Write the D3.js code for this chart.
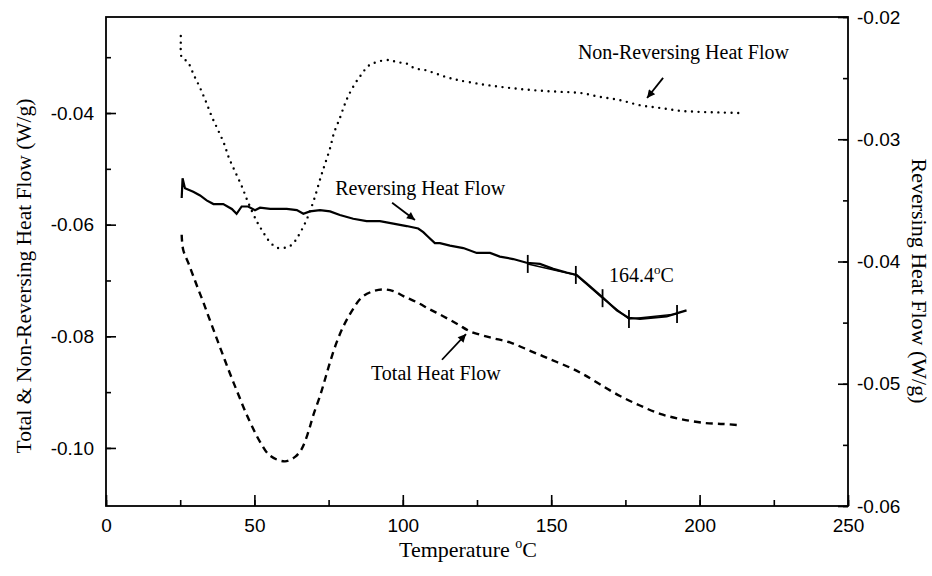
<!DOCTYPE html>
<html><head><meta charset="utf-8">
<script src="https://cdn.jsdelivr.net/npm/d3@7"></script>
<style>body{margin:0;background:#fff}</style>
</head><body>
<svg id="chart" width="932" height="576"></svg>
<script>
// ---------- data ----------
const xTicks = [0,25,50,75,100,125,150,175,200,225,250];
const xTickLabels = [0,50,100,150,200,250];
const leftTicks = [-0.03,-0.04,-0.05,-0.06,-0.07,-0.08,-0.09,-0.10];
const leftTickLabels = [-0.04,-0.06,-0.08,-0.10];
const rightTicks = [-0.06,-0.055,-0.05,-0.045,-0.04,-0.035,-0.03,-0.025,-0.02];
const rightTickLabels = [-0.06,-0.05,-0.04,-0.03,-0.02];

// Total heat flow (left axis)
const totalT  = [25.5,26.0,27.7,29.4,31.1,32.8,34.5,36.2,37.8,39.5,41.2,42.9,44.8,46.8,49.1,51.9,55.3,60.3,63.7,65.9,68.2,69.8,72.1,73.8,75.5,77.7,80.0,82.8,86.2,90.1,93.4,96.8,100.2,104.7,109.2,113.6,118.7,122.6,129.4,136.1,142.9,149.6,156.3,160.8,166.4,173.2,179.9,186.7,193.4,201.2,208.0,213.0];
const totalHF = [-0.0618,-0.0645,-0.0668,-0.0692,-0.0716,-0.0739,-0.0764,-0.0788,-0.0811,-0.0835,-0.0859,-0.0882,-0.0907,-0.0933,-0.0960,-0.0989,-0.1014,-0.1024,-0.1016,-0.1002,-0.0971,-0.0942,-0.0907,-0.0877,-0.0846,-0.0811,-0.0782,-0.0755,-0.0730,-0.0719,-0.0716,-0.0719,-0.0728,-0.0739,-0.0752,-0.0764,-0.0779,-0.0791,-0.0802,-0.0811,-0.0826,-0.0841,-0.0856,-0.0868,-0.0886,-0.0907,-0.0924,-0.0939,-0.0948,-0.0955,-0.0957,-0.0959];

// Non-reversing heat flow (left axis)
const nonRevT  = [25.2,25.2,25.5,27.6,29.6,31.7,33.7,35.7,37.7,39.8,41.4,43.5,45.8,47.8,50.8,52.9,54.6,57.5,60.6,62.6,64.7,67.6,70.1,72.4,73.8,75.5,76.8,78.8,80.2,81.5,83.6,85.9,88.3,90.0,92.3,95.7,98.0,101.1,104.1,107.5,111.5,114.9,118.6,126.0,132.7,139.5,146.2,153.0,159.7,166.4,173.2,179.9,186.7,193.4,200.1,206.9,213.6];
const nonRevHF = [-0.0262,-0.0276,-0.0300,-0.0309,-0.0332,-0.0355,-0.0380,-0.0407,-0.0430,-0.0455,-0.0480,-0.0505,-0.0532,-0.0559,-0.0594,-0.0613,-0.0627,-0.0641,-0.0641,-0.0636,-0.0621,-0.0591,-0.0555,-0.0514,-0.0491,-0.0463,-0.0436,-0.0409,-0.0388,-0.0371,-0.0350,-0.0332,-0.0316,-0.0311,-0.0307,-0.0305,-0.0309,-0.0311,-0.0320,-0.0323,-0.0330,-0.0336,-0.0341,-0.0348,-0.0353,-0.0357,-0.0360,-0.0362,-0.0364,-0.0371,-0.0377,-0.0386,-0.0391,-0.0396,-0.0398,-0.0399,-0.0400];

// Reversing heat flow (right axis)
const revT  = [25.5,25.8,26.6,29.4,31.7,33.9,36.2,39.5,42.4,44.0,45.7,47.9,50.2,51.9,55.3,60.9,64.3,66.5,68.7,72.1,75.5,78.8,83.3,87.8,92.3,96.8,101.3,105.2,106.9,108.6,110.8,112.5,115.9,120.4,124.9,129.4,132.7,137.2,141.7,146.2,150.7,155.2,158.6,162.0,167.6,172.1,176.0,179.9,184.4,188.9,192.8,195.6];
const revHF = [-0.0348,-0.0332,-0.0340,-0.0343,-0.0346,-0.0350,-0.0353,-0.0353,-0.0357,-0.0361,-0.0355,-0.0355,-0.0358,-0.0356,-0.0357,-0.0357,-0.0358,-0.0361,-0.0359,-0.0358,-0.0359,-0.0362,-0.0365,-0.0367,-0.0367,-0.0369,-0.0371,-0.0373,-0.0376,-0.0380,-0.0385,-0.0385,-0.0387,-0.0389,-0.0393,-0.0393,-0.0396,-0.0398,-0.0401,-0.0402,-0.0406,-0.0409,-0.0411,-0.0418,-0.0430,-0.0440,-0.0446,-0.0447,-0.0446,-0.0445,-0.0442,-0.0440];

// Glass-transition analysis markers (right axis)
const crossT  = [142.1,158.3,167.3,176.2,192.4];
const crossHF = [-0.0402,-0.0411,-0.0430,-0.0447,-0.0443];

// Annotations
const labelText = ["Non-Reversing Heat Flow","Reversing Heat Flow","Total Heat Flow"];
const labelT    = [159.0, 77.2, 89.3];
const labelV    = [-0.0304, -0.0346, -0.0878];
const labelAxis = ["L","R","L"];
const tgText = "164.4";
const tgT = 169.5, tgV = -0.0417;
const arrowT0 = [187.7, 96.4, 113.2];
const arrowV0 = [-0.0337,-0.0352,-0.0842];
const arrowT1 = [182.3,104.1,121.3];
const arrowV1 = [-0.0373,-0.0366,-0.0796];
const arrowAxis = ["L","R","L"];

// ---------- scales ----------
const svg = d3.select("#chart");
const X0=106, X1=848, Y0=506, Y1=17;
const x  = d3.scaleLinear().domain([0,250]).range([X0,X1]);
const yL = d3.scaleLinear().domain([-0.1104,-0.0228]).range([Y0,Y1]);
const yR = d3.scaleLinear().domain([-0.06,-0.02]).range([Y0,Y1]);
const ys = {L:yL,R:yR};

const tickFont = "'Liberation Sans', Arial, sans-serif";
const serif = "'Liberation Serif', 'Times New Roman', serif";

function styleAxis(g){
  g.select(".domain").remove();
  g.selectAll(".tick line").attr("stroke","#000").attr("stroke-width",1.6);
  g.selectAll(".tick text").attr("font-family",tickFont).attr("font-size",19).attr("fill","#000");
}
const fmt = d => d3.format(".2f")(d).replace("−","-");

svg.append("g").attr("transform",`translate(0,${Y0})`)
  .call(d3.axisBottom(x).tickValues(xTicks).tickSize(-6).tickFormat(""))
  .call(styleAxis);
svg.append("g").attr("transform",`translate(0,${Y0})`)
  .call(d3.axisBottom(x).tickValues(xTickLabels).tickSize(-11).tickPadding(13).tickFormat(d3.format("d")))
  .call(styleAxis);
svg.append("g").attr("transform",`translate(${X0},0)`)
  .call(d3.axisLeft(yL).tickValues(leftTicks).tickSize(-5).tickFormat(""))
  .call(styleAxis);
svg.append("g").attr("transform",`translate(${X0},0)`)
  .call(d3.axisLeft(yL).tickValues(leftTickLabels).tickSize(-10).tickPadding(12).tickFormat(fmt))
  .call(styleAxis);
svg.append("g").attr("transform",`translate(${X1},0)`)
  .call(d3.axisRight(yR).tickValues(rightTicks).tickSize(-5).tickFormat(""))
  .call(styleAxis);
svg.append("g").attr("transform",`translate(${X1},0)`)
  .call(d3.axisRight(yR).tickValues(rightTickLabels).tickSize(-10).tickPadding(9).tickFormat(fmt))
  .call(styleAxis);

svg.append("rect").attr("x",X0).attr("y",Y1).attr("width",X1-X0).attr("height",Y0-Y1)
  .attr("fill","none").attr("stroke","#000").attr("stroke-width",1.8);

// ---------- series ----------
const zip = (t,v)=>t.map((d,i)=>[d,v[i]]);
const lineL = d3.line().x(d=>x(d[0])).y(d=>yL(d[1])).curve(d3.curveCatmullRom);
const lineR = d3.line().x(d=>x(d[0])).y(d=>yR(d[1]));

svg.append("path").datum(zip(totalT,totalHF)).attr("d",lineL)
  .attr("fill","none").attr("stroke","#000").attr("stroke-width",2.4).attr("stroke-dasharray","7,5");

svg.append("path").datum(zip(nonRevT,nonRevHF)).attr("d",lineL)
  .attr("fill","none").attr("stroke","#000").attr("stroke-width",2.4).attr("stroke-linecap","round").attr("stroke-dasharray","0,6.6");

svg.append("path").datum(zip(revT,revHF)).attr("d",lineR)
  .attr("fill","none").attr("stroke","#000").attr("stroke-width",2.2).attr("stroke-linejoin","miter");

svg.append("path").datum(zip(crossT,crossHF)).attr("d",lineR)
  .attr("fill","none").attr("stroke","#000").attr("stroke-width",1.4);
svg.append("g").selectAll("line").data(zip(crossT,crossHF)).join("line")
  .attr("x1",d=>x(d[0])).attr("x2",d=>x(d[0]))
  .attr("y1",d=>yR(d[1])-9).attr("y2",d=>yR(d[1])+9)
  .attr("stroke","#000").attr("stroke-width",1.8);

// ---------- annotations ----------
svg.append("defs").append("marker").attr("id","ah").attr("viewBox","0 0 10 10")
  .attr("refX",10).attr("refY",5).attr("markerWidth",11).attr("markerHeight",8)
  .attr("markerUnits","userSpaceOnUse").attr("orient","auto")
  .append("path").attr("d","M0,0 L10,5 L0,10 Z").attr("fill","#000");

svg.append("g").selectAll("line").data(arrowT0).join("line")
  .attr("x1",(d,i)=>x(arrowT0[i])).attr("y1",(d,i)=>ys[arrowAxis[i]](arrowV0[i]))
  .attr("x2",(d,i)=>x(arrowT1[i])).attr("y2",(d,i)=>ys[arrowAxis[i]](arrowV1[i]))
  .attr("stroke","#000").attr("stroke-width",1.8).attr("marker-end","url(#ah)");

svg.append("g").selectAll("text").data(labelText).join("text")
  .attr("x",(d,i)=>x(labelT[i])).attr("y",(d,i)=>ys[labelAxis[i]](labelV[i]))
  .attr("font-family",serif).attr("font-size",20).attr("fill","#000").text(d=>d);

const tg = svg.append("text").attr("x",x(tgT)).attr("y",yR(tgV))
  .attr("font-family",serif).attr("font-size",20).attr("fill","#000");
tg.append("tspan").text(tgText);
tg.append("tspan").attr("font-size",13).attr("dy",-8).text("o");
tg.append("tspan").attr("dy",8).text("C");

// axis titles
const xt = svg.append("text").attr("x",468).attr("y",557).attr("text-anchor","middle")
  .attr("font-family",serif).attr("font-size",22).attr("fill","#000");
xt.append("tspan").text("Temperature ");
xt.append("tspan").attr("font-size",14).attr("dy",-9).text("o");
xt.append("tspan").attr("dy",9).text("C");

svg.append("text").attr("transform",`translate(31,276) rotate(-90)`).attr("text-anchor","middle")
  .attr("font-family",serif).attr("font-size",21.5).attr("fill","#000")
  .text("Total & Non-Reversing Heat Flow (W/g)");
svg.append("text").attr("transform",`translate(912,281) rotate(90)`).attr("text-anchor","middle")
  .attr("font-family",serif).attr("font-size",22).attr("fill","#000")
  .text("Reversing Heat Flow (W/g)");
</script>
</body></html>
